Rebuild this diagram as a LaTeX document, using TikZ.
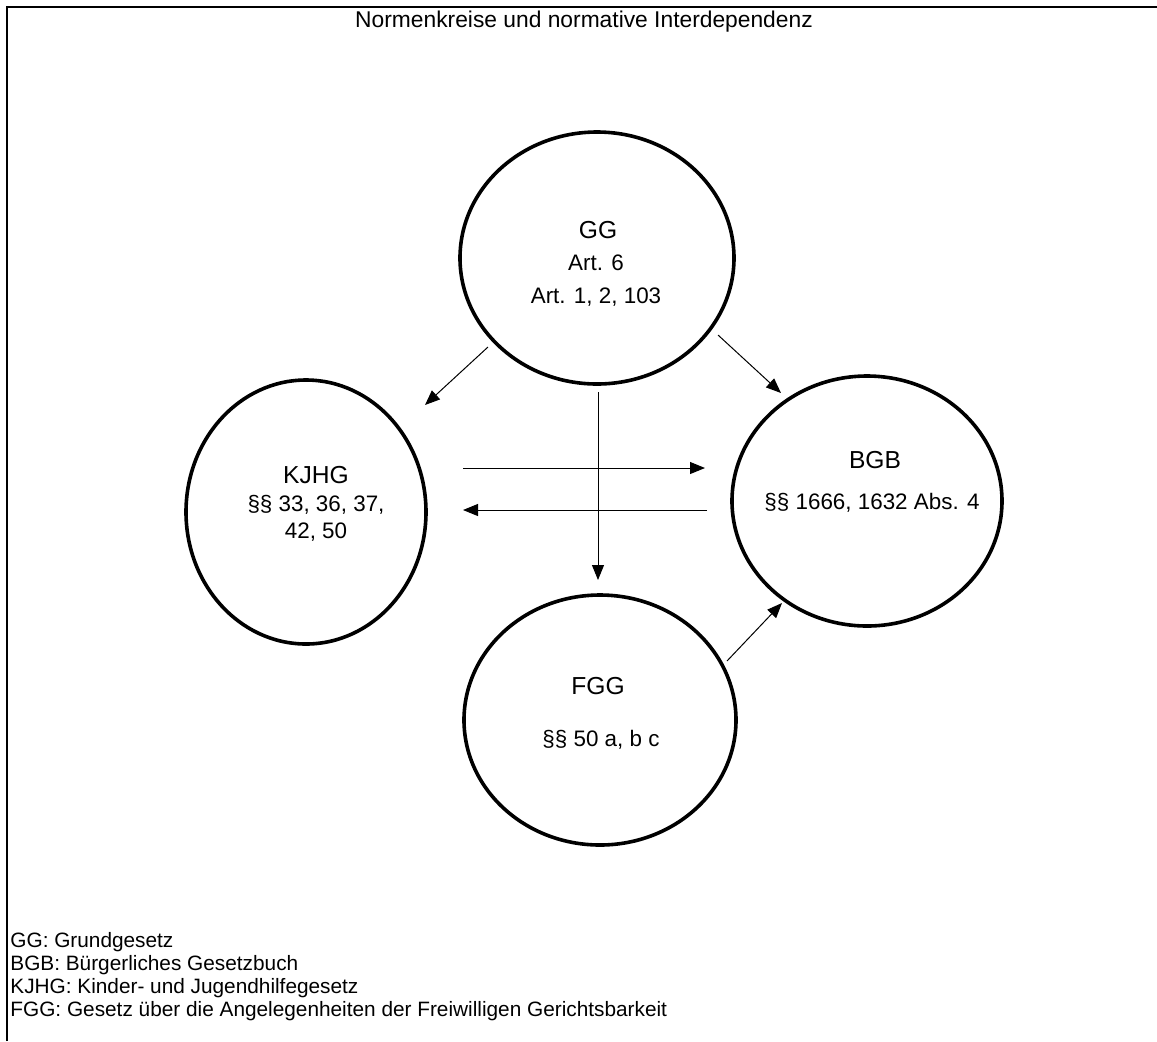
\documentclass[tikz,border=0pt]{standalone}
\usepackage{fontspec}
\setmainfont{Liberation Sans}
\usetikzlibrary{arrows.meta,shapes.geometric}
\begin{document}
\begin{tikzpicture}[x=0.5pt,y=-0.5pt,
  ring/.style={draw=black,line width=1.8pt,ellipse,inner sep=0pt},
  head/.style={font=\fontsize{12.3}{14}\selectfont,inner sep=0pt},
  sub/.style={font=\fontsize{11.2}{13.5}\selectfont,inner sep=0pt,align=center},
  arr/.style={draw=black,line width=0.5pt,-{Triangle[length=7.5pt,width=6pt]}},
  legend/.style={font=\fontsize{10.4}{12}\selectfont,anchor=west,inner sep=0pt}]
\useasboundingbox (0,0) rectangle (1157,1041);
% frame
\draw[line width=1.4pt] (7,1041) -- (7,7) -- (1157,7);
% title
\node[font=\fontsize{11.4}{13}\selectfont,inner sep=0pt] (title) at (584,22) {Normenkreise und normative Interdependenz};
% circles (sizes in pt = half of pixels)
\node[ring,minimum width=137pt,minimum height=126pt] (gg) at (597,258) {};
\node[ring,minimum width=120pt,minimum height=132pt] (kjhg) at (306,512) {};
\node[ring,minimum width=135pt,minimum height=125pt] (bgb) at (867,501) {};
\node[ring,minimum width=136pt,minimum height=125pt] (fgg) at (600,720) {};
% texts
\node[head] (ggh) at (598,230) {GG};
\node[sub] (ggs1) at (596,263) {Art. 6};
\node[sub] (ggs2) at (596,297) {Art. 1, 2, 103};
\node[head] (kjhgh) at (316,475) {KJHG};
\node[sub] (kjhgs) at (316,518) {§§ 33, 36, 37,\\42, 50};
\node[head] (bgbh) at (875,460) {BGB};
\node[sub] (bgbs) at (872,503) {§§ 1666, 1632 Abs. 4};
\node[head] (fggh) at (598,686) {FGG};
\node[sub] (fggs) at (601,740) {§§ 50 a, b c};
% arrow end points
\coordinate (a1s) at (488,347);
\coordinate (a1e) at (425,405);
\coordinate (a2s) at (718,335);
\coordinate (a2e) at (781,393);
\coordinate (a3s) at (598,392);
\coordinate (a3e) at (598,580);
\coordinate (a4s) at (463,468);
\coordinate (a4e) at (705,468);
\coordinate (a5s) at (707,510);
\coordinate (a5e) at (463,510);
\coordinate (a6s) at (727,661);
\coordinate (a6e) at (782,603);
\draw[arr] (a1s) -- (a1e);
\draw[arr] (a2s) -- (a2e);
\draw[arr] (a3s) -- (a3e);
\draw[arr] (a4s) -- (a4e);
\draw[arr] (a5s) -- (a5e);
\draw[arr] (a6s) -- (a6e);
% legend
\node[legend] (l1) at (10,942) {GG: Grundgesetz};
\node[legend] (l2) at (10,965) {BGB: Bürgerliches Gesetzbuch};
\node[legend] (l3) at (10,988) {KJHG: Kinder- und Jugendhilfegesetz};
\node[legend] (l4) at (10,1011) {FGG: Gesetz über die Angelegenheiten der Freiwilligen Gerichtsbarkeit};
\end{tikzpicture}
\end{document}
